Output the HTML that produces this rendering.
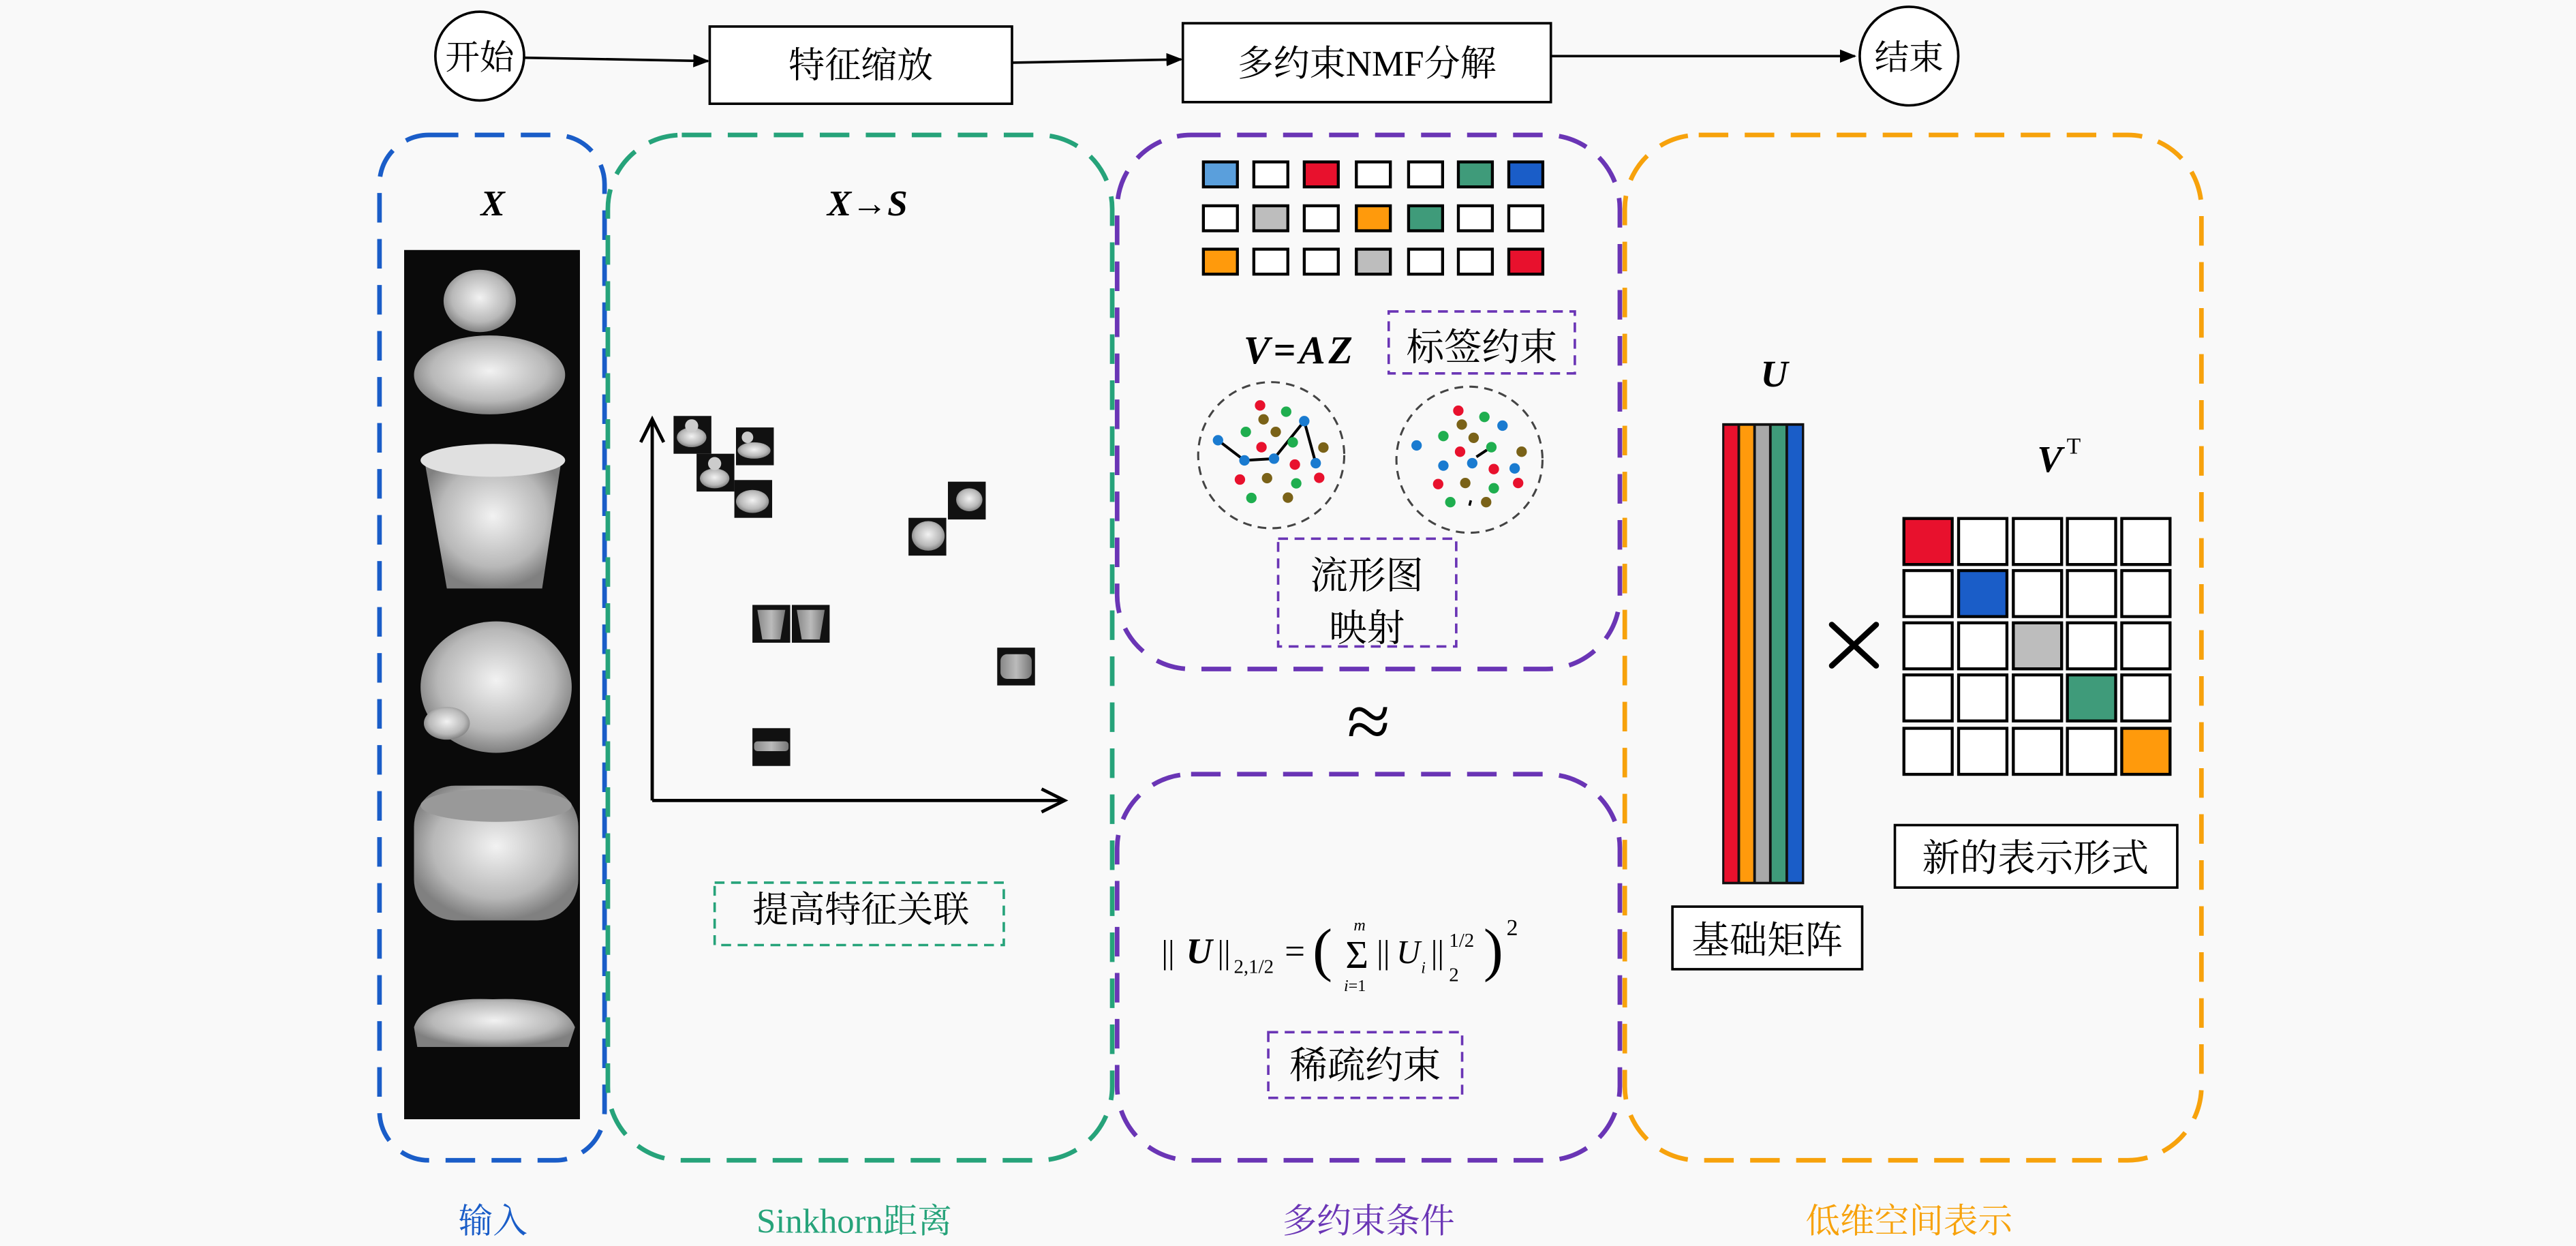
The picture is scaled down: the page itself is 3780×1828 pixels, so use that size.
<!DOCTYPE html>
<html><head><meta charset="utf-8"><style>
html,body{margin:0;padding:0;background:#f9f9f9;}
svg{display:block;}
text{font-family:"Liberation Serif","Noto Serif CJK SC",serif;}
</style></head><body>
<svg width="3780" height="1828" viewBox="0 0 1568 758" xmlns="http://www.w3.org/2000/svg">
<defs>
<marker id="ah" markerWidth="10" markerHeight="10" refX="9" refY="5" orient="auto" markerUnits="userSpaceOnUse"><path d="M0,1 L10,5 L0,9 Z" fill="#000"/></marker>
<radialGradient id="gw" cx="50%" cy="45%" r="55%"><stop offset="0" stop-color="#f2f2f2"/><stop offset="0.7" stop-color="#b8b8b8"/><stop offset="1" stop-color="#808080"/></radialGradient>
<linearGradient id="gc" x1="0" y1="0" x2="1" y2="0"><stop offset="0" stop-color="#888"/><stop offset="0.5" stop-color="#bbb"/><stop offset="1" stop-color="#777"/></linearGradient>
</defs>
<rect width="1568" height="758" fill="#f9f9f9"/>

<!-- top flow -->
<circle cx="292" cy="34" r="27" fill="#fff" stroke="#000" stroke-width="1.5"/>
<text x="292" y="42" font-size="21" text-anchor="middle">开始</text>
<line x1="319" y1="35" x2="431" y2="37" stroke="#000" stroke-width="1.5" marker-end="url(#ah)"/>
<rect x="432" y="16" width="184" height="47" fill="#fff" stroke="#000" stroke-width="1.5"/>
<text x="524" y="47" font-size="22" text-anchor="middle">特征缩放</text>
<line x1="616" y1="38" x2="719" y2="36" stroke="#000" stroke-width="1.5" marker-end="url(#ah)"/>
<rect x="720" y="14" width="224" height="48" fill="#fff" stroke="#000" stroke-width="1.5"/>
<text x="832" y="46" font-size="22" text-anchor="middle">多约束NMF分解</text>
<line x1="944" y1="34" x2="1129" y2="34" stroke="#000" stroke-width="1.5" marker-end="url(#ah)"/>
<circle cx="1162" cy="34" r="30" fill="#fff" stroke="#000" stroke-width="1.5"/>
<text x="1162" y="42" font-size="21" text-anchor="middle">结束</text>

<!-- dashed panels -->
<g fill="none" stroke-width="2.8" stroke-dasharray="18 10">
<rect x="231" y="82" width="137" height="624" rx="30" stroke="#1a5dc8"/>
<rect x="370" y="82" width="307" height="624" rx="45" stroke="#26a37a"/>
<rect x="680" y="82" width="306" height="325" rx="45" stroke="#6a35b5"/>
<rect x="680" y="471" width="306" height="235" rx="45" stroke="#6a35b5"/>
<rect x="989" y="82" width="351" height="624" rx="45" stroke="#f7a20c"/>
</g>
<text x="300" y="750" font-size="21" text-anchor="middle" fill="#1a5dc8">输入</text>
<text x="520" y="750" font-size="21" text-anchor="middle" fill="#26a37a">Sinkhorn距离</text>
<text x="833" y="750" font-size="21" text-anchor="middle" fill="#6a35b5">多约束条件</text>
<text x="1162" y="750" font-size="21" text-anchor="middle" fill="#f7a20c">低维空间表示</text>

<!-- X column -->
<text x="300" y="131" font-size="22" font-weight="bold" font-style="italic" text-anchor="middle">X</text>
<rect x="246" y="152" width="107" height="529" fill="#0a0a0a"/>
<g fill="url(#gw)">
<ellipse cx="292" cy="183" rx="22" ry="19"/>
<ellipse cx="298" cy="228" rx="46" ry="24"/>
<path d="M258,278 L342,278 L330,358 L272,358 Z"/>
<ellipse cx="300" cy="280" rx="44" ry="10" fill="#e0e0e0"/>
<ellipse cx="302" cy="418" rx="46" ry="40"/>
<ellipse cx="272" cy="440" rx="14" ry="10"/>
<rect x="252" y="478" width="100" height="82" rx="25"/>
<ellipse cx="302" cy="490" rx="46" ry="10" fill="#999"/>
<path d="M252,625 Q258,606 300,608 Q342,606 350,625 L346,637 L254,637 Z"/>
</g>

<!-- scatter -->
<text x="528" y="131" font-size="22" font-weight="bold" font-style="italic" text-anchor="middle">X→S</text>
<line x1="397" y1="487" x2="397" y2="256" stroke="#000" stroke-width="2"/>
<polyline points="390,269 397,255 404,269" fill="none" stroke="#000" stroke-width="2"/>
<line x1="397" y1="487" x2="646" y2="487" stroke="#000" stroke-width="2"/>
<polyline points="634,480 648,487 634,494" fill="none" stroke="#000" stroke-width="2"/>
<g>
<rect x="410" y="253" width="23" height="23" fill="#111"/><ellipse cx="421" cy="266" rx="9" ry="6" fill="url(#gw)"/><circle cx="421" cy="259" r="4" fill="#ccc"/>
<rect x="448" y="260" width="23" height="23" fill="#111"/><ellipse cx="459" cy="274" rx="10" ry="5" fill="url(#gw)"/><circle cx="455" cy="266" r="3.5" fill="#ccc"/>
<rect x="424" y="276" width="23" height="23" fill="#111"/><ellipse cx="435" cy="291" rx="9" ry="6" fill="url(#gw)"/><circle cx="435" cy="282" r="4" fill="#ccc"/>
<rect x="447" y="292" width="23" height="23" fill="#111"/><ellipse cx="458" cy="305" rx="10" ry="7" fill="url(#gw)"/>
<rect x="577" y="293" width="23" height="23" fill="#111"/><ellipse cx="590" cy="304" rx="8" ry="7" fill="url(#gw)"/>
<rect x="553" y="315" width="23" height="23" fill="#111"/><ellipse cx="565" cy="326" rx="10" ry="9" fill="url(#gw)"/>
<rect x="458" y="368" width="23" height="23" fill="#111"/><path d="M461,371 L478,371 L475,389 L464,389Z" fill="url(#gc)"/>
<rect x="482" y="368" width="23" height="23" fill="#111"/><path d="M485,371 L502,371 L499,389 L488,389Z" fill="url(#gc)"/>
<rect x="607" y="394" width="23" height="23" fill="#111"/><rect x="609" y="398" width="19" height="15" rx="4" fill="url(#gc)"/>
<rect x="458" y="443" width="23" height="23" fill="#111"/><rect x="459" y="451" width="21" height="6" rx="2" fill="url(#gc)"/>
</g>
<text x="524" y="561" font-size="22" text-anchor="middle">提高特征关联</text>
<rect x="435" y="537" width="176" height="38" fill="none" stroke="#26a37a" stroke-width="1.5" stroke-dasharray="6 4"/>

<!-- label grid -->
<g stroke="#000" stroke-width="1.8">
<rect x="732.5" y="98.4" width="20.7" height="15.2" fill="#5a9fdc"/>
<rect x="763.2" y="98.4" width="20.7" height="15.2" fill="#fff"/>
<rect x="793.9" y="98.4" width="20.7" height="15.2" fill="#e8112d"/>
<rect x="825.6" y="98.4" width="20.7" height="15.2" fill="#fff"/>
<rect x="857.4" y="98.4" width="20.7" height="15.2" fill="#fff"/>
<rect x="887.7" y="98.4" width="20.7" height="15.2" fill="#3f9b7a"/>
<rect x="918.4" y="98.4" width="20.7" height="15.2" fill="#1a5dc8"/>
<rect x="732.5" y="125.1" width="20.7" height="15.2" fill="#fff"/>
<rect x="763.2" y="125.1" width="20.7" height="15.2" fill="#bdbdbd"/>
<rect x="793.9" y="125.1" width="20.7" height="15.2" fill="#fff"/>
<rect x="825.6" y="125.1" width="20.7" height="15.2" fill="#ff9a0c"/>
<rect x="857.4" y="125.1" width="20.7" height="15.2" fill="#3f9b7a"/>
<rect x="887.7" y="125.1" width="20.7" height="15.2" fill="#fff"/>
<rect x="918.4" y="125.1" width="20.7" height="15.2" fill="#fff"/>
<rect x="732.5" y="151.5" width="20.7" height="15.2" fill="#ff9a0c"/>
<rect x="763.2" y="151.5" width="20.7" height="15.2" fill="#fff"/>
<rect x="793.9" y="151.5" width="20.7" height="15.2" fill="#fff"/>
<rect x="825.6" y="151.5" width="20.7" height="15.2" fill="#bdbdbd"/>
<rect x="857.4" y="151.5" width="20.7" height="15.2" fill="#fff"/>
<rect x="887.7" y="151.5" width="20.7" height="15.2" fill="#fff"/>
<rect x="918.4" y="151.5" width="20.7" height="15.2" fill="#e8112d"/>
</g>
<text x="757" y="221" font-size="24" font-weight="bold" font-style="italic" letter-spacing="2">V=AZ</text>
<rect x="845.3" y="189.4" width="113.3" height="37.7" fill="none" stroke="#6a35b5" stroke-width="1.5" stroke-dasharray="6 4"/>
<text x="902" y="219" font-size="23" text-anchor="middle">标签约束</text>

<!-- manifold circles -->
<g transform="translate(663.7,74.7) scale(0.2117)">
<circle cx="520" cy="955" r="210" fill="none" stroke="#444" stroke-width="6" stroke-dasharray="25 18"/>
<circle cx="1090" cy="968" r="210" fill="none" stroke="#444" stroke-width="6" stroke-dasharray="25 18"/>
<polyline points="367,912 443,970 528,965 615,857 648,978" fill="none" stroke="#000" stroke-width="8"/>
<line x1="1110" y1="960" x2="1140" y2="940" stroke="#000" stroke-width="8"/>
<line x1="1090" y1="1100" x2="1094" y2="1085" stroke="#000" stroke-width="7"/>
<g>
<circle cx="488" cy="812" r="15" fill="#e8112d"/><circle cx="563" cy="830" r="15" fill="#1fae4f"/><circle cx="498" cy="852" r="15" fill="#7a6218"/><circle cx="615" cy="857" r="15" fill="#1a7bd0"/><circle cx="447" cy="888" r="15" fill="#1fae4f"/><circle cx="533" cy="888" r="15" fill="#7a6218"/><circle cx="582" cy="918" r="15" fill="#1fae4f"/><circle cx="367" cy="912" r="15" fill="#1a7bd0"/><circle cx="492" cy="932" r="15" fill="#e8112d"/><circle cx="670" cy="933" r="15" fill="#7a6218"/><circle cx="443" cy="970" r="15" fill="#1a7bd0"/><circle cx="528" cy="965" r="15" fill="#1a7bd0"/><circle cx="588" cy="982" r="15" fill="#e8112d"/><circle cx="648" cy="978" r="15" fill="#1a7bd0"/><circle cx="430" cy="1025" r="15" fill="#e8112d"/><circle cx="508" cy="1021" r="15" fill="#7a6218"/><circle cx="592" cy="1036" r="15" fill="#1fae4f"/><circle cx="658" cy="1020" r="15" fill="#e8112d"/><circle cx="463" cy="1078" r="15" fill="#1fae4f"/><circle cx="568" cy="1077" r="15" fill="#7a6218"/>
<circle cx="1058" cy="827" r="15" fill="#e8112d"/><circle cx="1133" cy="845" r="15" fill="#1fae4f"/><circle cx="1068" cy="867" r="15" fill="#7a6218"/><circle cx="1185" cy="870" r="15" fill="#1a7bd0"/><circle cx="938" cy="927" r="15" fill="#1a7bd0"/><circle cx="1015" cy="900" r="15" fill="#1fae4f"/><circle cx="1102" cy="905" r="15" fill="#7a6218"/><circle cx="1153" cy="932" r="15" fill="#1fae4f"/><circle cx="1063" cy="945" r="15" fill="#e8112d"/><circle cx="1240" cy="945" r="15" fill="#7a6218"/><circle cx="1015" cy="985" r="15" fill="#1a7bd0"/><circle cx="1098" cy="978" r="15" fill="#1a7bd0"/><circle cx="1160" cy="995" r="15" fill="#e8112d"/><circle cx="1220" cy="993" r="15" fill="#1a7bd0"/><circle cx="1000" cy="1038" r="15" fill="#e8112d"/><circle cx="1078" cy="1035" r="15" fill="#7a6218"/><circle cx="1160" cy="1050" r="15" fill="#1fae4f"/><circle cx="1230" cy="1035" r="15" fill="#e8112d"/><circle cx="1035" cy="1090" r="15" fill="#1fae4f"/><circle cx="1138" cy="1090" r="15" fill="#7a6218"/>
</g>
</g>
<rect x="778" y="327.7" width="108.4" height="65.6" fill="none" stroke="#6a35b5" stroke-width="1.5" stroke-dasharray="6 4"/>
<text x="832" y="358" font-size="23" text-anchor="middle">流形图</text>
<text x="832" y="390" font-size="23" text-anchor="middle">映射</text>

<text x="833" y="455" font-size="48" text-anchor="middle">≈</text>

<!-- sparse formula -->
<g font-size="20">
<text x="707" y="586">||</text>
<text x="722" y="586" font-weight="bold" font-style="italic" font-size="22">U</text>
<text x="741" y="586">||</text>
<text x="751" y="592" font-size="12">2,1/2</text>
<text x="782" y="586" font-size="22">=</text>
<text x="799" y="590" font-size="36">(</text>
<text x="819" y="589" font-size="24">Σ</text>
<text x="824" y="566" font-size="10" font-style="italic">m</text>
<text x="818" y="603" font-size="10"><tspan font-style="italic">i</tspan>=1</text>
<text x="838" y="586">||</text>
<text x="850" y="586" font-style="italic">U</text>
<text x="865" y="592" font-size="10" font-style="italic">i</text>
<text x="871" y="586">||</text>
<text x="882" y="576" font-size="12">1/2</text>
<text x="882" y="597" font-size="12">2</text>
<text x="903" y="590" font-size="36">)</text>
<text x="917" y="569" font-size="14">2</text>
</g>
<rect x="772" y="628" width="118" height="40" fill="none" stroke="#6a35b5" stroke-width="1.5" stroke-dasharray="6 4"/>
<text x="831" y="656" font-size="23" text-anchor="middle">稀疏约束</text>

<!-- U and V^T -->
<text x="1080" y="235" font-size="23" font-weight="bold" font-style="italic" text-anchor="middle">U</text>
<rect x="1048.3" y="257.4" width="49.9" height="280.6" fill="#111"/>
<rect x="1049.6" y="259" width="8" height="277.5" fill="#e8112d"/>
<rect x="1059.2" y="259" width="8" height="277.5" fill="#ff9a0c"/>
<rect x="1068.8" y="259" width="8" height="277.5" fill="#a8a8a8"/>
<rect x="1078.4" y="259" width="8.4" height="277.5" fill="#3f9b7a"/>
<rect x="1088.4" y="259" width="8.4" height="277.5" fill="#1a5dc8"/>
<g stroke="#000" stroke-width="3.5" stroke-linecap="round">
<line x1="1115" y1="380" x2="1142" y2="405"/><line x1="1142" y1="380" x2="1115" y2="405"/>
</g>
<text x="1240" y="287" font-size="23" font-weight="bold" font-style="italic">V</text>
<text x="1258" y="276" font-size="14">T</text>
<g stroke="#000" stroke-width="1.8" fill="#fff">
<rect x="1158.9" y="315.4" width="29.4" height="28" fill="#e8112d"/><rect x="1192.2" y="315.4" width="29.4" height="28"/><rect x="1225.5" y="315.4" width="29.4" height="28"/><rect x="1258.4" y="315.4" width="29.4" height="28"/><rect x="1291.5" y="315.4" width="29.4" height="28"/>
<rect x="1158.9" y="347.1" width="29.4" height="28"/><rect x="1192.2" y="347.1" width="29.4" height="28" fill="#1a5dc8"/><rect x="1225.5" y="347.1" width="29.4" height="28"/><rect x="1258.4" y="347.1" width="29.4" height="28"/><rect x="1291.5" y="347.1" width="29.4" height="28"/>
<rect x="1158.9" y="378.9" width="29.4" height="28"/><rect x="1192.2" y="378.9" width="29.4" height="28"/><rect x="1225.5" y="378.9" width="29.4" height="28" fill="#bdbdbd"/><rect x="1258.4" y="378.9" width="29.4" height="28"/><rect x="1291.5" y="378.9" width="29.4" height="28"/>
<rect x="1158.9" y="410.6" width="29.4" height="28"/><rect x="1192.2" y="410.6" width="29.4" height="28"/><rect x="1225.5" y="410.6" width="29.4" height="28"/><rect x="1258.4" y="410.6" width="29.4" height="28" fill="#3f9b7a"/><rect x="1291.5" y="410.6" width="29.4" height="28"/>
<rect x="1158.9" y="443.1" width="29.4" height="28"/><rect x="1192.2" y="443.1" width="29.4" height="28"/><rect x="1225.5" y="443.1" width="29.4" height="28"/><rect x="1258.4" y="443.1" width="29.4" height="28"/><rect x="1291.5" y="443.1" width="29.4" height="28" fill="#ff9a0c"/>
</g>
<rect x="1153.4" y="502" width="171.9" height="38" fill="#fff" stroke="#000" stroke-width="1.5"/>
<text x="1239" y="530" font-size="23" text-anchor="middle">新的表示形式</text>
<rect x="1018" y="551.6" width="115.5" height="38.1" fill="#fff" stroke="#000" stroke-width="1.5"/>
<text x="1075.7" y="580" font-size="23" text-anchor="middle">基础矩阵</text>
</svg>
</body></html>
